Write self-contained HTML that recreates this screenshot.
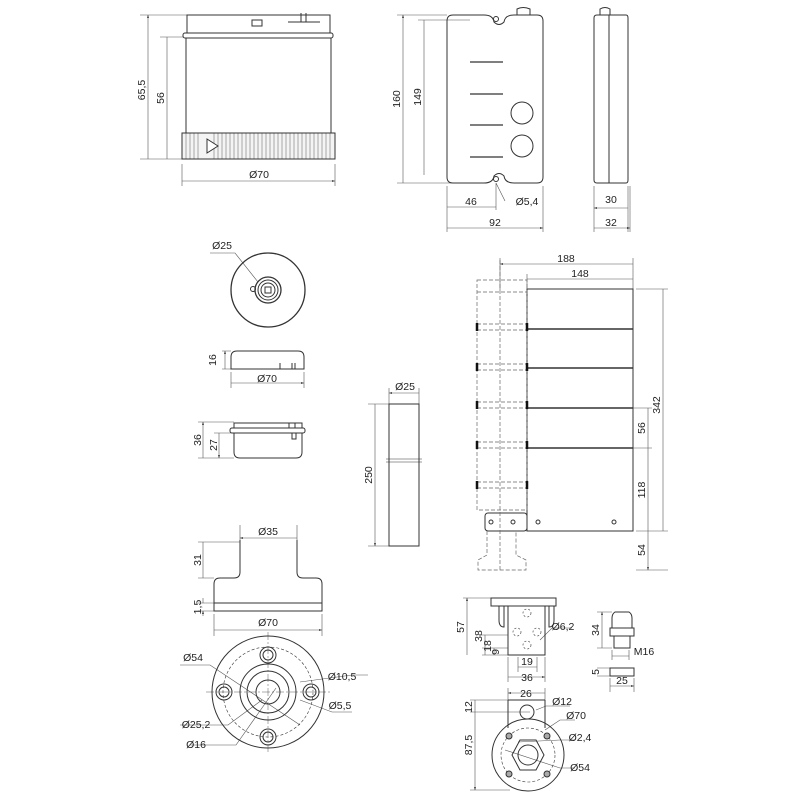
<!DOCTYPE html>
<html><head><meta charset="utf-8"><style>html,body{margin:0;padding:0;background:#fff}svg{display:block}</style></head><body>
<svg width="800" height="800" viewBox="0 0 800 800" xmlns="http://www.w3.org/2000/svg" font-family="Liberation Sans, sans-serif" font-size="10" fill="none" stroke="#222">
<defs><marker id="a" viewBox="0 0 10 10" refX="10" refY="5" markerWidth="5" markerHeight="5" orient="auto-start-reverse"><path d="M0,2 L10,5 L0,8z" fill="#222" stroke="none"/></marker></defs>
<g stroke-width="0.6" stroke="#555">
<!-- module top -->
<path d="M140,15H187M160,37H184M140,159H182M182,164V186M335,164V186"/>
<path d="M148,15V159M167,37V159M182,181H335" marker-start="url(#a)" marker-end="url(#a)"/>
<!-- box -->
<path d="M397,15H447M418,20H470M397,183H470M447,186V232M543,186V232M496,183V210M496,183L505,201"/>
<path d="M403,15V183M424,20V175M447,207H496M447,228H543" marker-start="url(#a)" marker-end="url(#a)"/>
<!-- side -->
<path d="M594,186V232M628,186V232M630,186V232"/>
<path d="M594,208H628M594,228H630" marker-start="url(#a)" marker-end="url(#a)"/>
<!-- cap -->
<path d="M210,253H235L258,282"/>
<path d="M222,351H231M222,369H231M231,372V388M304,372V388"/>
<path d="M225,351V369M231,383H304" marker-start="url(#a)" marker-end="url(#a)"/>
<path d="M198,422H234M214,433H234M198,458H234"/>
<path d="M203,422V458M219,433V458" marker-start="url(#a)" marker-end="url(#a)"/>
<!-- pole -->
<path d="M389,388V404M419,388V404M368,404H389M368,546H389"/>
<path d="M389,393H419M375,404V546" marker-start="url(#a)" marker-end="url(#a)"/>
<!-- base -->
<path d="M240,525V540M297,525V540M198,542H240M198,578H214M198,603H214M198,611H214M214,614V636M322,614V636"/>
<path d="M240,538H297M203,542V578M214,630H322" marker-start="url(#a)" marker-end="url(#a)"/>
<path d="M203,598V603M203,616V611" marker-end="url(#a)"/>
<path d="M180,665H210L300,725M180,725H228L262,700M190,745H236L276,688M300,682L352,675H368M300,700L332,712H352"/>
<!-- column -->
<path d="M500,258V290M633,258V289M527,274V289M636,289H668M636,531H668M636,570H668M633,408H652M633,448H652"/>
<path d="M500,264H633M527,279H633M663,289V531M648,408V448M648,448V531M648,531V570" marker-start="url(#a)" marker-end="url(#a)"/>
<!-- bracket -->
<path d="M463,598H491M480,635H508M482,648H508M482,655H508M508,657V682M545,657V682M518,657V672M537,657V672"/>
<path d="M467,598V655M485,635V655M494,648V655M518,667H537M508,677H545" marker-start="url(#a)" marker-end="url(#a)"/>
<path d="M540,640L552,628H572"/>
<path d="M508,688V702M545,688V702M470,700H508M470,712H530M470,790H510"/>
<path d="M508,693H545M475,700V712M475,712V790" marker-start="url(#a)" marker-end="url(#a)"/>
<path d="M536,710L546,706H570M545,730L560,720H575M518,742L560,740H575M505,750L560,768H575"/>
<!-- gland -->
<path d="M597,612H612M597,648H612M612,650V660M629,650V660M597,668H610M597,676H610M610,678V692M634,678V692"/>
<path d="M602,612V648M612,656H629M610,686H634" marker-start="url(#a)" marker-end="url(#a)"/>
</g>
<g stroke-width="1" stroke="#333">
<!-- module -->
<rect x="187" y="15" width="143" height="18"/>
<rect x="252" y="20" width="10" height="6"/><path d="M288,22H320M301,13V22M306,13V22"/>
<rect x="183" y="33" width="150" height="5" rx="2"/>
<path d="M186,38V133M331,38V133"/>
<rect x="182" y="133" width="153" height="26" fill="#f4f4f4"/>
<path d="M186,133V159M190,133V159M194,133V159M198,133V159M214,133V159M218,133V159M222,133V159M226,133V159M230,133V159M234,133V159M238,133V159M242,133V159M246,133V159M250,133V159M254,133V159M258,133V159M262,133V159M266,133V159M270,133V159M274,133V159M278,133V159M282,133V159M286,133V159M290,133V159M294,133V159M298,133V159M302,133V159M306,133V159M310,133V159M314,133V159M318,133V159M322,133V159M326,133V159M330,133V159" stroke-width="0.4"/>
<path d="M218,146L207,139V153Z" fill="#fff"/>
<!-- box -->
<path d="M453,15H484Q493,15 494,22Q499,27 504,22Q505,15 514,15H537Q543,15 543,21V177Q543,183 537,183H514Q505,183 504,176Q499,171 494,176Q493,183 484,183H453Q447,183 447,177V21Q447,15 453,15Z"/>
<path d="M517,15V9Q523,6 530,9V15"/>
<circle cx="496" cy="19" r="2.5"/><circle cx="496" cy="179" r="2.5"/>
<path d="M470,62H503M470,94H503M470,125H503M470,157H503" stroke-width="1.3"/>
<circle cx="522" cy="113" r="11"/><circle cx="522" cy="146" r="11"/>
<!-- side -->
<path d="M597,15H626Q628,15 628,18V180Q628,183 626,183H597Q594,183 594,180V18Q594,15 597,15ZM609,15V183M600,15V9Q605,6 610,9V15"/>
<!-- cap top -->
<circle cx="268" cy="290" r="37" stroke-width="1.3"/>
<circle cx="268" cy="290" r="13" stroke-width="1.3"/><circle cx="268" cy="290" r="10"/><circle cx="268" cy="290" r="7"/>
<rect x="265" y="287" width="6" height="6"/><circle cx="253" cy="289" r="2.5"/>
<path d="M231,369V357Q231,351 237,351H298Q304,351 304,357V369Z"/>
<path d="M280,369V363M292,369V363M295,369V363"/>
<!-- buzzer -->
<path d="M234,433V452Q234,458 240,458H296Q302,458 302,452V433M234,428V423H302V428"/>
<rect x="230" y="428" width="75" height="5" rx="2"/><rect x="289" y="423" width="6" height="5"/><rect x="292" y="433" width="4" height="6"/>
<!-- pole -->
<rect x="389" y="404" width="30" height="142"/><path d="M386,459H422M386,462H422" stroke-width="0.6"/>
<!-- base -->
<path d="M240,540V572Q240,578 234,578H220Q214,578 214,584V611H322V584Q322,578 316,578H303Q297,578 297,572V540M214,603H322"/>
<circle cx="268" cy="692" r="56"/>
<circle cx="268" cy="692" r="45" stroke-dasharray="3,2" stroke-width="0.6"/>
<circle cx="268" cy="692" r="28"/><circle cx="268" cy="692" r="21"/><circle cx="268" cy="692" r="12"/>
<circle cx="268" cy="655" r="8"/><circle cx="268" cy="655" r="5"/><circle cx="268" cy="737" r="8"/><circle cx="268" cy="737" r="5"/>
<circle cx="224" cy="692" r="8"/><circle cx="224" cy="692" r="5"/><circle cx="311" cy="692" r="8"/><circle cx="311" cy="692" r="5"/>
<path d="M206,692H330M268,632V752" stroke-width="0.4" stroke-dasharray="8,2,2,2"/>
<!-- column -->
<rect x="527" y="289" width="106" height="242"/>
<path d="M527,329H633M527,368H633M527,408H633M527,448H633" stroke-width="1.5"/>
<rect x="485" y="513" width="42" height="18" rx="3"/>
<circle cx="491" cy="522" r="2"/><circle cx="513" cy="522" r="2"/><circle cx="538" cy="522" r="2"/><circle cx="614" cy="522" r="2"/>
<g stroke-dasharray="4,2" stroke-width="0.7" stroke="#666">
<path d="M477,280H527V510H477ZM477,292H527M500,260V570M487,531V555L478,560V570H526V560L516,555V531"/>
<path d="M477,324H527M477,330H527M477,364H527M477,370H527M477,402H527M477,408H527M477,442H527M477,448H527M477,482H527M477,488H527"/>
</g>
<path d="M477,323V331M527,323V331M477,363V371M527,363V371M477,401V409M527,401V409M477,441V449M527,441V449M477,481V489M527,481V489" stroke-width="2.5" stroke="#111"/>
<!-- bracket -->
<rect x="491" y="598" width="65" height="8"/>
<path d="M508,606V655H545V606M499,606V620Q499,627 504,627V606M549,606V627Q554,627 554,620V606"/>
<g stroke-width="0.6" stroke-dasharray="2,2"><circle cx="527" cy="613" r="4"/><circle cx="517" cy="632" r="4"/><circle cx="537" cy="632" r="4"/><circle cx="527" cy="645" r="4"/></g>
<path d="M508,700V728M545,700V728M508,700H545"/>
<circle cx="528" cy="755" r="36"/>
<circle cx="528" cy="755" r="27" stroke-dasharray="3,2" stroke-width="0.6"/>
<circle cx="527" cy="712" r="7"/>
<path d="M520,740L536,740L544,755L536,770L520,770L512,755Z"/><circle cx="528" cy="755" r="10"/>
<g fill="#aaa"><circle cx="509" cy="736" r="3"/><circle cx="547" cy="736" r="3"/><circle cx="509" cy="774" r="3"/><circle cx="547" cy="774" r="3"/></g>
<!-- gland -->
<path d="M615,612H629Q632,614 632,618V628H612V618Q612,614 615,612ZM610,628H634V636H610ZM614,636V648H630V636"/>
<rect x="610" y="668" width="24" height="8"/>
</g>
<g fill="#222" stroke="none" font-size="10.5">
<text x="145" y="90" transform="rotate(-90 145 90)" text-anchor="middle">65,5</text>
<text x="164" y="98" transform="rotate(-90 164 98)" text-anchor="middle">56</text>
<text x="259" y="178" text-anchor="middle">Ø70</text>
<text x="400" y="99" transform="rotate(-90 400 99)" text-anchor="middle">160</text>
<text x="421" y="97" transform="rotate(-90 421 97)" text-anchor="middle">149</text>
<text x="471" y="205" text-anchor="middle">46</text>
<text x="527" y="205" text-anchor="middle">Ø5,4</text>
<text x="495" y="226" text-anchor="middle">92</text>
<text x="611" y="203" text-anchor="middle">30</text>
<text x="611" y="226" text-anchor="middle">32</text>
<text x="222" y="249" text-anchor="middle">Ø25</text>
<text x="216" y="360" transform="rotate(-90 216 360)" text-anchor="middle">16</text>
<text x="267" y="382" text-anchor="middle">Ø70</text>
<text x="201" y="440" transform="rotate(-90 201 440)" text-anchor="middle">36</text>
<text x="217" y="445" transform="rotate(-90 217 445)" text-anchor="middle">27</text>
<text x="405" y="390" text-anchor="middle">Ø25</text>
<text x="372" y="475" transform="rotate(-90 372 475)" text-anchor="middle">250</text>
<text x="268" y="535" text-anchor="middle">Ø35</text>
<text x="201" y="560" transform="rotate(-90 201 560)" text-anchor="middle">31</text>
<text x="201" y="607" transform="rotate(-90 201 607)" text-anchor="middle">1,5</text>
<text x="268" y="626" text-anchor="middle">Ø70</text>
<text x="193" y="661" text-anchor="middle">Ø54</text>
<text x="342" y="680" text-anchor="middle">Ø10,5</text>
<text x="340" y="709" text-anchor="middle">Ø5,5</text>
<text x="196" y="728" text-anchor="middle">Ø25,2</text>
<text x="196" y="748" text-anchor="middle">Ø16</text>
<text x="566" y="262" text-anchor="middle">188</text>
<text x="580" y="277" text-anchor="middle">148</text>
<text x="660" y="405" transform="rotate(-90 660 405)" text-anchor="middle">342</text>
<text x="645" y="428" transform="rotate(-90 645 428)" text-anchor="middle">56</text>
<text x="645" y="490" transform="rotate(-90 645 490)" text-anchor="middle">118</text>
<text x="645" y="550" transform="rotate(-90 645 550)" text-anchor="middle">54</text>
<text x="464" y="627" transform="rotate(-90 464 627)" text-anchor="middle">57</text>
<text x="482" y="636" transform="rotate(-90 482 636)" text-anchor="middle">38</text>
<text x="491" y="646" transform="rotate(-90 491 646)" text-anchor="middle">18</text>
<text x="499" y="652" transform="rotate(-90 499 652)" text-anchor="middle">9</text>
<text x="563" y="630" text-anchor="middle">Ø6,2</text>
<text x="527" y="665" text-anchor="middle">19</text>
<text x="527" y="681" text-anchor="middle">36</text>
<text x="526" y="697" text-anchor="middle">26</text>
<text x="472" y="707" transform="rotate(-90 472 707)" text-anchor="middle">12</text>
<text x="562" y="705" text-anchor="middle">Ø12</text>
<text x="576" y="719" text-anchor="middle">Ø70</text>
<text x="580" y="741" text-anchor="middle">Ø2,4</text>
<text x="580" y="771" text-anchor="middle">Ø54</text>
<text x="472" y="745" transform="rotate(-90 472 745)" text-anchor="middle">87,5</text>
<text x="599" y="630" transform="rotate(-90 599 630)" text-anchor="middle">34</text>
<text x="644" y="655" text-anchor="middle">M16</text>
<text x="599" y="672" transform="rotate(-90 599 672)" text-anchor="middle">5</text>
<text x="622" y="684" text-anchor="middle">25</text>
</g>
</svg>
</body></html>
